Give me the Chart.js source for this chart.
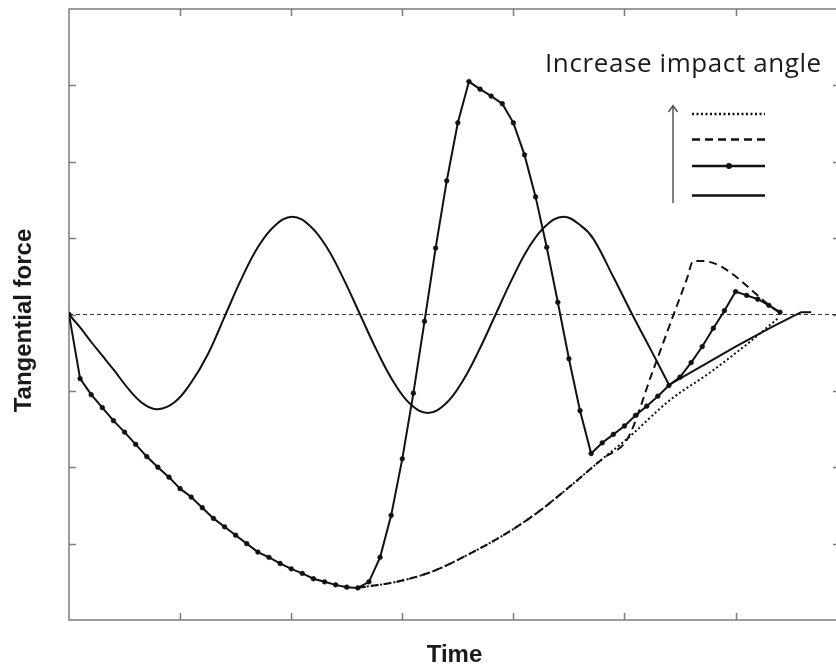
<!DOCTYPE html>
<html lang="en">
<head>
<meta charset="UTF-8">
<title>Tangential force vs time</title>
<style>
    html, body {
        margin: 0;
        padding: 0;
        background: #fff;
        overflow: hidden;
    }
    #wrap {
        position: relative;
        width: 846px;
        height: 672px;
    }
</style>
<script src="https://cdn.jsdelivr.net/npm/chart.js"></script>
</head>
<body>
<div id="wrap"><canvas id="forceChart" width="846" height="672"></canvas></div>
<script>
    // axis ranges (the original has no tick labels, units are tick spacings)
    const xMin = 0, xMax = 6.94;
    const yMin = -4, yMax = 4;

    // solid line with dots
    const dotLineTime = [0, 0.1, 0.2, 0.3, 0.4, 0.5, 0.6, 0.7, 0.8, 0.9,
        1.0, 1.1, 1.2, 1.3, 1.4, 1.5, 1.6, 1.7, 1.8, 1.9,
        2.0, 2.1, 2.2, 2.3, 2.4, 2.5, 2.6, 2.7, 2.8, 2.9,
        3.0, 3.1, 3.2, 3.3, 3.4, 3.5, 3.6, 3.7, 3.8, 3.9,
        4.0, 4.1, 4.2, 4.3, 4.4, 4.5, 4.6, 4.7, 4.8, 4.9,
        5.0, 5.1, 5.2, 5.3, 5.4, 5.5, 5.6, 5.7, 5.8, 5.9,
        6.0, 6.1, 6.2, 6.3, 6.4];
    const dotLineForce = [0, -0.84, -1.05, -1.22, -1.39, -1.54, -1.70, -1.86, -2.00, -2.13,
        -2.28, -2.39, -2.53, -2.67, -2.78, -2.89, -3.00, -3.11, -3.18, -3.26,
        -3.33, -3.39, -3.46, -3.50, -3.54, -3.57, -3.58, -3.50, -3.18, -2.63,
        -1.89, -1.03, -0.09, 0.87, 1.75, 2.51, 3.05, 2.95, 2.86, 2.76,
        2.51, 2.09, 1.54, 0.88, 0.16, -0.58, -1.26, -1.82, -1.68, -1.57,
        -1.46, -1.32, -1.20, -1.07, -0.93, -0.82, -0.63, -0.42, -0.18, 0.05,
        0.30, 0.25, 0.20, 0.12, 0.03];

    // plain solid line: oscillates, then joins the stick curve
    const solidTime = [0, 0.1, 0.2, 0.3, 0.4, 0.55, 0.68, 0.8, 0.95, 1.1,
        1.25, 1.4, 1.55, 1.7, 1.85, 2.01, 2.17, 2.32, 2.47, 2.62,
        2.77, 2.92, 3.07, 3.23, 3.39, 3.54, 3.69, 3.84, 3.99, 4.14,
        4.29, 4.45, 4.61, 4.72, 4.9, 5.07, 5.24, 5.4, 5.68, 6.0,
        6.32, 6.59, 6.68];
    const solidForce = [0, -0.17, -0.36, -0.54, -0.72, -1.0, -1.18, -1.24, -1.15, -0.89,
        -0.52, -0.03, 0.46, 0.88, 1.16, 1.28, 1.16, 0.88, 0.47, 0,
        -0.47, -0.88, -1.17, -1.29, -1.17, -0.88, -0.47, 0, 0.47, 0.88,
        1.16, 1.28, 1.16, 0.99, 0.49, 0, -0.47, -0.92, -0.69, -0.42,
        -0.17, 0.03, 0.03];
    const solidJoin = 37; // index where the oscillation meets the stick curve

    // stick curve shared by the dotted and dashed lines (drawn as dash-dot)
    const stickTime = [2.6, 2.98, 3.28, 3.61, 3.91, 4.22, 4.51, 4.81, 5.03];
    const stickForce = [-3.58, -3.49, -3.36, -3.13, -2.89, -2.59, -2.25, -1.88, -1.62];
    const dottedTailTime = [5.41, 5.77, 6.11, 6.39];
    const dottedTailForce = [-1.12, -0.76, -0.38, -0.04];
    const dashedTailTime = [5.25, 5.45, 5.56, 5.62, 5.70, 6.38];
    const dashedTailForce = [-0.76, 0.03, 0.46, 0.70, 0.70, 0.04];

    const ink = '#111';
    const pts = (xs, ys) => xs.map((x, i) => ({ x: x, y: ys[i] }));

    const dsMarked = { data: pts(dotLineTime, dotLineForce), borderColor: ink, borderWidth: 2,
        pointRadius: 2.4, pointBackgroundColor: ink, pointBorderColor: ink, pointBorderWidth: 0.5,
        tension: 0, order: 0 };
    const dsSolid = { data: pts(solidTime.slice(0, solidJoin + 1), solidForce.slice(0, solidJoin + 1)),
        borderColor: ink, borderWidth: 2, pointRadius: 0, tension: 0.4, order: 1 };
    const dsSolidStick = { data: pts(solidTime.slice(solidJoin), solidForce.slice(solidJoin)),
        borderColor: ink, borderWidth: 2, pointRadius: 0, tension: 0, order: 2 };
    const dsDashed = { data: pts(stickTime.concat(dashedTailTime), stickForce.concat(dashedTailForce)),
        borderColor: ink, borderWidth: 2, borderDash: [8, 5], pointRadius: 0,
        cubicInterpolationMode: 'monotone', order: 3 };
    const dsDotted = { data: pts(stickTime.concat(dottedTailTime), stickForce.concat(dottedTailForce)),
        borderColor: ink, borderWidth: 2, borderDash: [2, 2.5], pointRadius: 0,
        cubicInterpolationMode: 'monotone', order: 4 };
    const dsZero = { data: [{ x: xMin, y: 0 }, { x: xMax, y: 0 }], borderColor: '#333', borderWidth: 1,
        borderDash: [4, 3], pointRadius: 0, order: 5 };

    // box with inward ticks on all four sides
    const framePlugin = {
        id: 'frame',
        beforeDatasetsDraw(chart) {
            const { ctx, chartArea: a, scales } = chart;
            const tick = 7;
            ctx.save();
            ctx.strokeStyle = '#7c7c7c';
            ctx.lineWidth = 1.5;
            ctx.strokeRect(a.left, a.top, a.right - a.left, a.bottom - a.top);
            ctx.beginPath();
            scales.x.ticks.forEach(t => {
                const px = Math.round(scales.x.getPixelForValue(t.value)) + 0.5;
                if (px < a.left + 2 || px > a.right - 2) return;
                ctx.moveTo(px, a.bottom); ctx.lineTo(px, a.bottom - tick);
                ctx.moveTo(px, a.top); ctx.lineTo(px, a.top + tick);
            });
            scales.y.ticks.forEach(t => {
                const py = Math.round(scales.y.getPixelForValue(t.value)) + 0.5;
                if (py < a.top + 2 || py > a.bottom - 2) return;
                ctx.moveTo(a.left, py); ctx.lineTo(a.left + tick, py);
                ctx.moveTo(a.right, py); ctx.lineTo(a.right - tick, py);
            });
            ctx.stroke();
            ctx.restore();
        },
        afterDraw(chart) {
            const { ctx, chartArea: a } = chart;
            ctx.save();
            ctx.fillStyle = '#1a1a1a';
            ctx.font = 'bold 24px "Liberation Sans", Arial, sans-serif';
            ctx.textAlign = 'center';
            ctx.textBaseline = 'alphabetic';
            ctx.fillText('Time', (a.left + a.right) / 2, 662);
            ctx.translate(31, (a.top + a.bottom) / 2 + 6);
            ctx.rotate(-Math.PI / 2);
            ctx.fillText('Tangential force', 0, 0);
            ctx.restore();
        }
    };

    // hand-drawn style legend: arrow + sample lines, highest angle on top
    const legendPlugin = {
        id: 'angleLegend',
        afterDraw(chart) {
            const ctx = chart.ctx;
            ctx.save();
            ctx.fillStyle = '#1a1a1a';
            ctx.font = '26px "Open Sans", "Noto Sans", sans-serif';
            ctx.letterSpacing = '0.6px';
            ctx.textBaseline = 'alphabetic';
            ctx.fillText('Increase impact angle', 545, 72);
            ctx.letterSpacing = '0px';

            ctx.strokeStyle = '#555';
            ctx.lineWidth = 1.5;
            ctx.beginPath();
            ctx.moveTo(673, 203); ctx.lineTo(673, 106);
            ctx.moveTo(668.5, 112); ctx.lineTo(673, 105.5); ctx.lineTo(677.5, 112);
            ctx.stroke();

            const rows = [
                { y: 114, ds: dsDotted },
                { y: 139.5, ds: dsDashed },
                { y: 166, ds: dsMarked },
                { y: 195.5, ds: dsSolid }
            ];
            rows.forEach(r => {
                ctx.strokeStyle = r.ds.borderColor;
                ctx.lineWidth = 2.5;
                ctx.setLineDash(r.ds.borderDash || []);
                ctx.beginPath();
                ctx.moveTo(692, r.y); ctx.lineTo(765, r.y);
                ctx.stroke();
                if (r.ds.pointRadius) {
                    ctx.setLineDash([]);
                    ctx.fillStyle = r.ds.pointBackgroundColor;
                    ctx.beginPath();
                    ctx.arc(729, r.y, 3, 0, Math.PI * 2);
                    ctx.fill();
                }
            });
            ctx.restore();
        }
    };

    const intTicks = scale => {
        scale.ticks = scale.ticks.filter(t => Number.isInteger(t.value));
    };

    new Chart(document.getElementById('forceChart'), {
        type: 'line',
        data: { datasets: [dsMarked, dsSolid, dsSolidStick, dsDashed, dsDotted, dsZero] },
        options: {
            responsive: false,
            animation: false,
            devicePixelRatio: 1,
            layout: { padding: { left: 69, top: 9, right: 6, bottom: 52 } },
            scales: {
                x: {
                    type: 'linear', min: xMin, max: xMax,
                    ticks: { display: false, stepSize: 1 },
                    grid: { display: false, drawTicks: false },
                    border: { display: false },
                    afterBuildTicks: intTicks
                },
                y: {
                    type: 'linear', min: yMin, max: yMax,
                    ticks: { display: false, stepSize: 1 },
                    grid: { display: false, drawTicks: false },
                    border: { display: false },
                    afterBuildTicks: intTicks
                }
            },
            plugins: {
                legend: { display: false },
                tooltip: { enabled: false }
            }
        },
        plugins: [framePlugin, legendPlugin]
    });
</script>
</body>
</html>
